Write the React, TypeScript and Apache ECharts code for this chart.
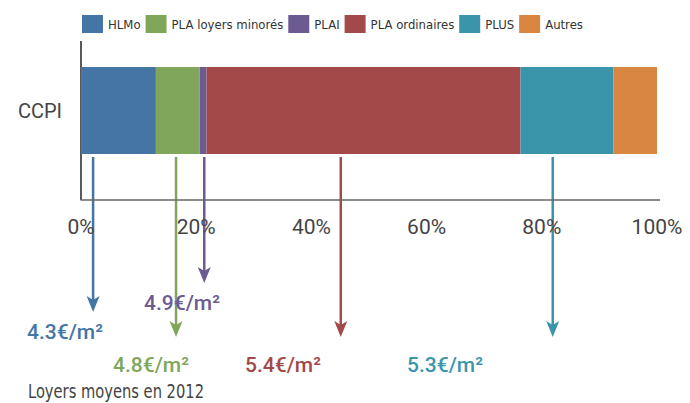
import React, { useEffect, useRef } from "react";
import * as echarts from "echarts";

const categories = ["CCPI"];
const seriesNames = ["HLMo", "PLA loyers minorés", "PLAI", "PLA ordinaires", "PLUS", "Autres"];
const shares = [13.0, 7.6, 1.2, 54.5, 16.1, 7.6];
const colors = ["#4575a5", "#80a65a", "#6c5a92", "#a4494a", "#3b95aa", "#da8643"];
const xTicks = [0, 20, 40, 60, 80, 100];

// rent labels (€/m²) for series with a callout arrow
const rentSeries = ["HLMo", "PLA loyers minorés", "PLAI", "PLA ordinaires", "PLUS"];
const rents = [4.3, 4.8, 4.9, 5.4, 5.3];
const arrowAt = [2.1, 16.5, 21.4, 45.1, 81.9];
const footnote = "Loyers moyens en 2012";

const NARROW = "'Liberation Sans Narrow', 'DejaVu Sans Condensed', Roboto, sans-serif";

export default function App() {
  const ref = useRef<HTMLDivElement>(null);
  useEffect(() => {
    if (!ref.current) return;
    const chart = echarts.init(ref.current, null, { renderer: "svg" });
    const option: any = {
      animation: false,
      color: colors,
      legend: {
        left: 77,
        top: 10,
        itemWidth: 21,
        itemHeight: 18,
        itemGap: 5,
        icon: "rect",
        textStyle: { fontFamily: NARROW, fontSize: 13, color: "#333" },
        data: seriesNames,
      },
      grid: { left: 81, right: 33, top: 21, bottom: 203 },
      xAxis: {
        type: "value",
        min: xTicks[0],
        max: xTicks[xTicks.length - 1],
        interval: 20,
        axisLine: { show: true, lineStyle: { color: "#666", width: 1.5 } },
        axisTick: { show: false },
        splitLine: { show: false },
        axisLabel: {
          formatter: "{value}%",
          fontFamily: "Roboto, sans-serif",
          fontSize: 21,
          color: "#444",
          margin: 16,
        },
      },
      yAxis: {
        type: "category",
        data: categories,
        axisLine: { show: false },
        axisTick: { show: false },
        axisLabel: {
          fontFamily: "Roboto, sans-serif",
          fontSize: 20,
          color: "#444",
          margin: 19,
          padding: [13, 0, 0, 0],
        },
      },
      series: seriesNames.map((name, i) => ({
        name,
        type: "bar",
        stack: "total",
        barWidth: 87,
        data: [shares[i]],
        itemStyle: { color: colors[i] },
      })),
    };
    chart.setOption(option);

    const tipY = [312, 337, 283, 337, 337];
    const labelPos = [
      [27, 332],
      [113, 365],
      [144, 303],
      [245, 365],
      [407, 365],
    ];
    const elements: any[] = [];
    const gx0 = chart.convertToPixel({ xAxisIndex: 0 }, 0) as number;
    const gx1 = chart.convertToPixel({ xAxisIndex: 0 }, 100) as number;
    // y axis line
    elements.push({
      type: "line",
      shape: { x1: gx0, y1: 41, x2: gx0, y2: 200 },
      style: { stroke: "#222", lineWidth: 1.5 },
    });
    // small axis overshoot past 100%
    elements.push({
      type: "line",
      shape: { x1: gx1, y1: 200, x2: gx1 + 3, y2: 200 },
      style: { stroke: "#666", lineWidth: 1.5 },
    });
    rentSeries.forEach((name, i) => {
      const c = colors[seriesNames.indexOf(name)];
      const x = chart.convertToPixel({ xAxisIndex: 0 }, arrowAt[i]) as number;
      const tip = tipY[i];
      elements.push({
        type: "line",
        shape: { x1: x, y1: 157, x2: x, y2: tip - 10 },
        style: { stroke: c, lineWidth: 2.5 },
      });
      elements.push({
        type: "polygon",
        shape: { points: [[x - 6.5, tip - 16], [x, tip - 12], [x + 6.5, tip - 16], [x, tip]] },
        style: { fill: c },
      });
      elements.push({
        type: "text",
        x: labelPos[i][0],
        y: labelPos[i][1],
        style: {
          text: rents[i].toFixed(1) + "€/m²",
          fill: c,
          fontFamily: "Roboto, sans-serif",
          fontWeight: 500,
          fontSize: 21,
          verticalAlign: "middle",
          align: "left",
        },
      });
    });
    elements.push({
      type: "text",
      x: 28,
      y: 392,
      scaleX: 0.86,
      style: {
        text: footnote,
        fill: "#444",
        fontFamily: NARROW,
        fontSize: 19,
        verticalAlign: "middle",
        align: "left",
      },
    });
    chart.setOption({ graphic: elements });
    return () => chart.dispose();
  }, []);
  return (
    <div
      ref={ref}
      style={{ position: "absolute", left: 0, top: 0, width: 690, height: 403 }}
    />
  );
}
